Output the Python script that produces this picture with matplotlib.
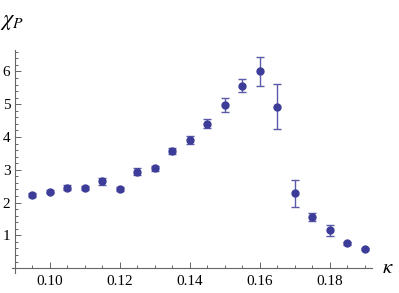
import matplotlib
matplotlib.use('Agg')
import matplotlib.pyplot as plt
import numpy as np
from matplotlib.ticker import FixedLocator, MultipleLocator

kappa = [0.095, 0.100, 0.105, 0.110, 0.115, 0.120, 0.125, 0.130, 0.135, 0.140,
         0.145, 0.150, 0.155, 0.160, 0.165, 0.170, 0.175, 0.180, 0.185, 0.190]
chi_p = [2.22, 2.33, 2.45, 2.45, 2.65, 2.40, 2.94, 3.04, 3.57, 3.90,
         4.41, 4.98, 5.57, 6.00, 4.93, 2.28, 1.55, 1.15, 0.76, 0.58]
chi_err = [0.06, 0.05, 0.08, 0.07, 0.10, 0.06, 0.10, 0.08, 0.08, 0.12,
           0.14, 0.21, 0.21, 0.45, 0.70, 0.41, 0.12, 0.18, 0.04, 0.04]
x_ticks = [0.10, 0.12, 0.14, 0.16, 0.18]
x_tick_labels = ['0.10', '0.12', '0.14', '0.16', '0.18']
y_ticks = [1, 2, 3, 4, 5, 6]

point_color = '#3d3d99'
axis_color = '#666666'

fig = plt.figure(figsize=(3.99, 2.93), dpi=100)
ax = fig.add_axes([0.030, 0.068, 0.902, 0.761])

ax.errorbar(kappa, chi_p, yerr=chi_err, fmt='o', color=point_color,
            markersize=5, ecolor='#5a5aa8', elinewidth=1.0, capsize=3,
            capthick=1.0)

ax.set_xlim(0.08923, 0.1921)
ax.set_ylim(-0.15, 6.65)

for side in ['top', 'right']:
    ax.spines[side].set_visible(False)
ax.spines['left'].set_position(('data', 0.09))
ax.spines['bottom'].set_position(('data', 0))
for side in ['left', 'bottom']:
    ax.spines[side].set_color(axis_color)
    ax.spines[side].set_linewidth(0.8)

ax.xaxis.set_major_locator(FixedLocator(x_ticks))
ax.set_xticklabels(x_tick_labels)
ax.xaxis.set_minor_locator(MultipleLocator(0.005))
ax.yaxis.set_major_locator(FixedLocator(y_ticks))
ax.yaxis.set_minor_locator(MultipleLocator(0.2))

ax.tick_params(which='both', direction='in', color=axis_color, width=0.7,
               labelsize=11, labelfontfamily='Liberation Serif')
ax.tick_params(which='major', length=4)
ax.tick_params(which='minor', length=2.2)
ax.tick_params(axis='x', pad=5)
ax.tick_params(axis='y', pad=3)

fig.text(0.0, 0.925, r'$\chi_P$', fontsize=16,
         math_fontfamily='stix', ha='left', va='center')
fig.text(0.958, 0.088, r'$\kappa$', fontsize=15, math_fontfamily='stix',
         ha='left', va='center')

fig.savefig('out.png', dpi=100)
